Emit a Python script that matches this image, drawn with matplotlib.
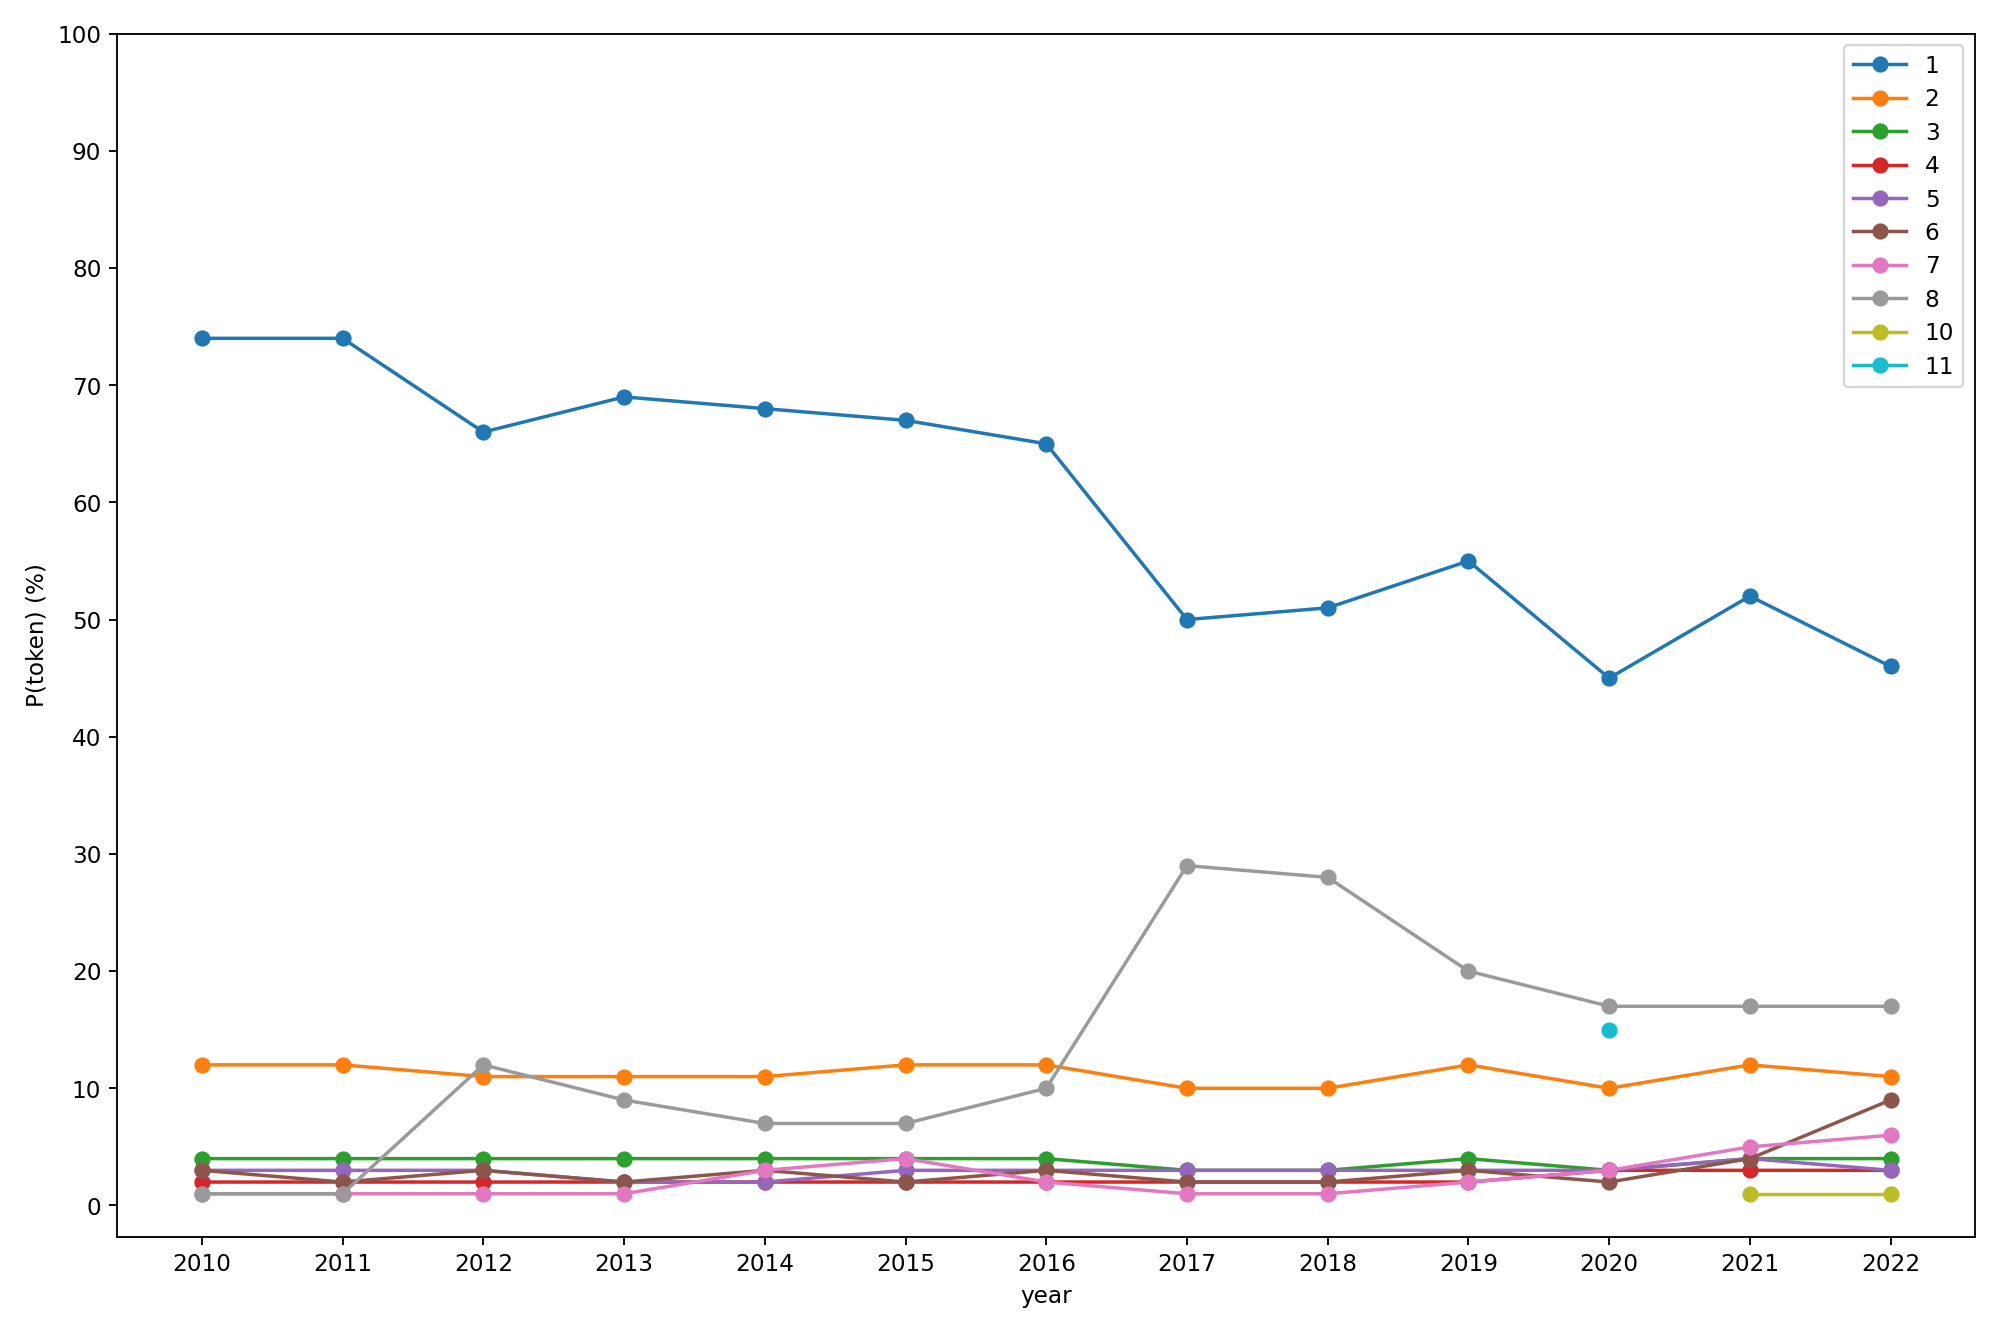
import matplotlib
matplotlib.use("Agg")
import matplotlib.pyplot as plt

years = list(range(2010, 2023))

s1 = [74, 74, 66, 69, 68, 67, 65, 50, 51, 55, 45, 52, 46]
s2 = [12, 12, 11, 11, 11, 12, 12, 10, 10, 12, 10, 12, 11]
s3 = [4, 4, 4, 4, 4, 4, 4, 3, 3, 4, 3, 4, 4]
s4 = [2, 2, 2, 2, 2, 2, 2, 2, 2, 2, 3, 3, 3]
s5 = [3, 3, 3, 2, 2, 3, 3, 3, 3, 3, 3, 4, 3]
s6 = [3, 2, 3, 2, 3, 2, 3, 2, 2, 3, 2, 4, 9]
s7 = [1, 1, 1, 1, 3, 4, 2, 1, 1, 2, 3, 5, 6]
s8 = [1, 1, 12, 9, 7, 7, 10, 29, 28, 20, 17, 17, 17]
years10 = [2021, 2022]
s10 = [1, 1]
years11 = [2020]
s11 = [15]

series = [
    ("1", years, s1, "#1f77b4"),
    ("2", years, s2, "#ff7f0e"),
    ("3", years, s3, "#2ca02c"),
    ("4", years, s4, "#d62728"),
    ("5", years, s5, "#9467bd"),
    ("6", years, s6, "#8c564b"),
    ("7", years, s7, "#e377c2"),
    ("8", years, s8, "#9a9a9a"),
    ("10", years10, s10, "#bcbd22"),
    ("11", years11, s11, "#17becf"),
]

fig, ax = plt.subplots(figsize=(12, 8), dpi=166.67)
for name, xs, ys, c in series:
    ax.plot(xs, ys, marker="o", color=c, label=name)

ax.set_xticks(years)
ax.set_yticks(range(0, 101, 10))
ax.set_ylim(top=100)
ax.set_xlabel("year")
ax.set_ylabel("P(token) (%)")
ax.legend(loc="upper right", handlelength=2.3, labelspacing=0.45)
fig.tight_layout()
fig.savefig("out.png")
